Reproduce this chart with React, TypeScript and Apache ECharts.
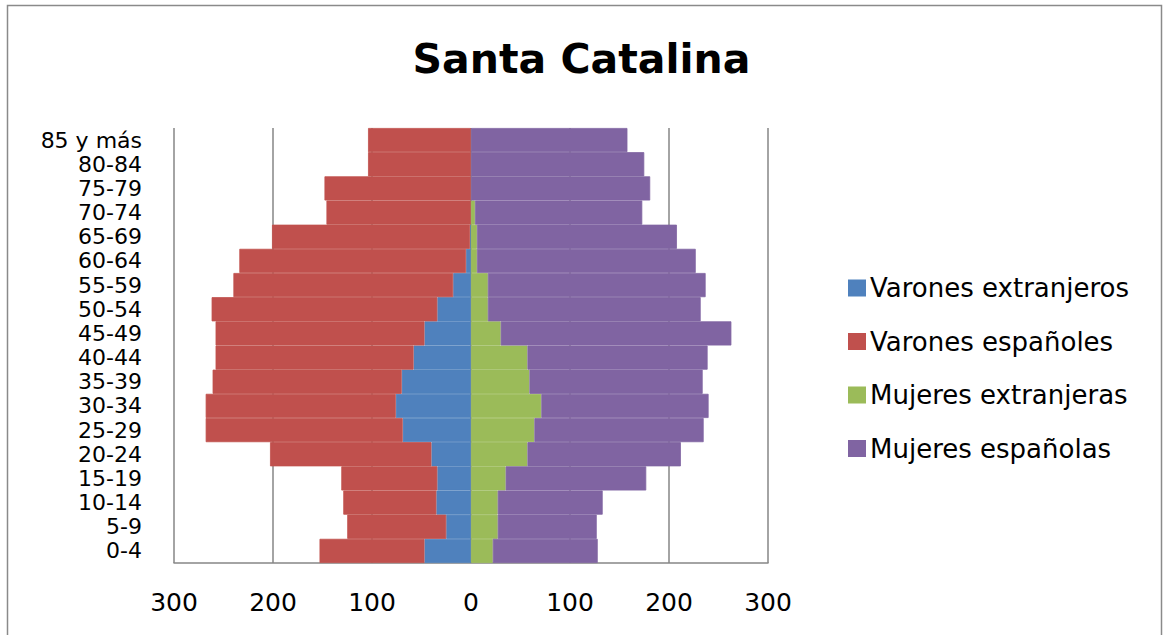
import React, { useEffect, useRef } from "react";
import * as echarts from "echarts";

const categories = ["0-4", "5-9", "10-14", "15-19", "20-24", "25-29", "30-34", "35-39", "40-44", "45-49", "50-54", "55-59", "60-64", "65-69", "70-74", "75-79", "80-84", "85 y más"];
const varonesExtranjeros = [47, 25, 35, 34, 40, 69, 76, 70, 58, 47, 34, 18, 5, 1, 0, 0, 0, 0];
const varonesEspanoles = [106, 100, 94, 97, 163, 199, 192, 191, 200, 211, 228, 222, 229, 200, 146, 148, 104, 104];
const mujeresExtranjeras = [22, 27, 27, 35, 57, 64, 71, 59, 57, 30, 17, 17, 6, 6, 4, 0, 0, 0];
const mujeresEspanolas = [106, 100, 106, 142, 155, 171, 169, 175, 182, 233, 215, 220, 221, 202, 169, 181, 175, 158];
const seriesNames = ["Varones extranjeros", "Varones españoles", "Mujeres extranjeras", "Mujeres españolas"];
const colors = ["#4F81BD", "#C0504D", "#9BBB59", "#8064A2"];

export default function App() {
  const ref = useRef<HTMLDivElement>(null);
  useEffect(() => {
    if (!ref.current) return;
    const chart = echarts.init(ref.current, undefined, { renderer: "svg" });
    const font = "DejaVu Sans";
    const mk = (i: number, data: number[], sign: number) => ({
      name: seriesNames[i],
      type: "bar",
      stack: "total",
      barCategoryGap: "0%",
      itemStyle: { color: colors[i], borderColor: colors[i], borderWidth: 0.8 },
      data: data.map((v) => (v === 0 ? null : sign * v)),
    });
    chart.setOption({
      animation: false,
      backgroundColor: "#ffffff",
      title: {
        text: "Santa Catalina",
        left: "center",
        top: 33,
        textStyle: { fontFamily: font, fontSize: 41, fontWeight: "bold", color: "#000" },
      },
      graphic: [
        {
          type: "rect",
          shape: { x: 7.5, y: 5.5, width: 1154, height: 640 },
          style: { fill: "none", stroke: "#8a8a8a", lineWidth: 1.5 },
          silent: true,
        },
      ],
      legend: {
        orient: "vertical",
        left: 843,
        top: 270,
        itemWidth: 16,
        itemHeight: 15,
        itemGap: 27.5,
        icon: "rect",
        data: seriesNames,
        textStyle: { fontFamily: font, fontSize: 26, color: "#000" },
      },
      grid: { left: 174, right: 395, top: 128, bottom: 72, containLabel: false },
      xAxis: {
        type: "value",
        min: -300,
        max: 300,
        interval: 100,
        axisLine: { show: true, lineStyle: { color: "#868686", width: 1.5 } },
        axisTick: { show: false },
        splitLine: { show: true, lineStyle: { color: "#868686", width: 1.5 } },
        axisLabel: {
          margin: 27,
          fontFamily: font,
          fontSize: 25,
          color: "#000",
          formatter: (v: number) => String(Math.abs(v)),
        },
      },
      yAxis: {
        type: "category",
        data: categories,
        axisLine: { show: false },
        axisTick: { show: false },
        axisLabel: { interval: 0, margin: 32, fontFamily: font, fontSize: 22, lineHeight: 22, color: "#000" },
      },
      series: [
        mk(0, varonesExtranjeros, -1),
        mk(1, varonesEspanoles, -1),
        mk(2, mujeresExtranjeras, 1),
        mk(3, mujeresEspanolas, 1),
      ],
    });
    return () => chart.dispose();
  }, []);
  return <div ref={ref} style={{ position: "fixed", left: 0, top: 0, width: 1163, height: 635 }} />;
}
